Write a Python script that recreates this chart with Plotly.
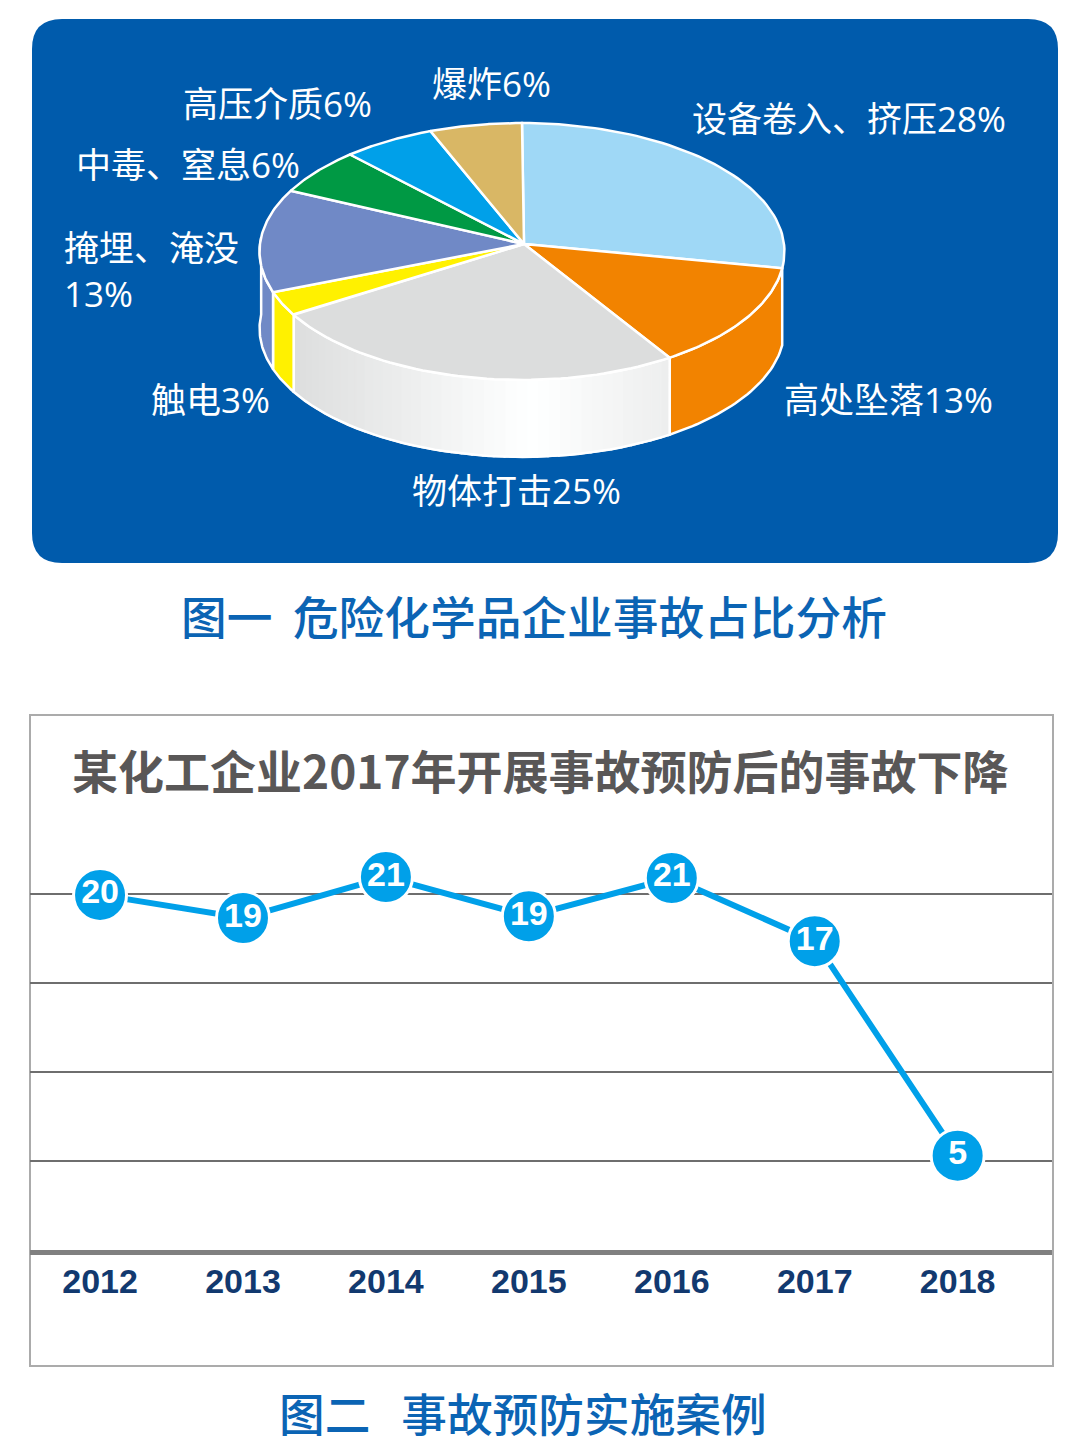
import numpy as np
import plotly.graph_objects as go

# pie data, clockwise from 12 o'clock
pie_names = ["设备卷入、挤压", "高处坠落", "物体打击", "触电", "掩埋、淹没<br>", "中毒、窒息", "高压介质", "爆炸"]
pie_shares = [28, 13, 25, 3, 13, 6, 6, 6]
pie_colors = ["#9FD8F6", "#F28300", "#DCDDDD", "#FFF100", "#7089C6", "#009944", "#00A0E9", "#D9B765"]
side_colors = ["#9FD8F6", "#F28300", None, "#FFF100", "#7089C6", "#009944", "#00A0E9", "#D9B765"]
label_pos = [(690, 118), (782, 399), (410, 490), (149, 399), (62, 270), (74, 164), (181, 103), (430, 83)]

# line data: printed labels, and the heights the points are drawn at in the picture
years = ["2012", "2013", "2014", "2015", "2016", "2017", "2018"]
accident_labels = [20, 19, 21, 19, 21, 17, 5]
accident_heights = [19.95, 18.65, 20.95, 18.75, 20.9, 17.35, 5.3]

BLUE = "#005BAC"
CJK = "Noto Sans CJK SC"
LABEL_FONT = "Open Sans, Noto Sans CJK SC"
DIGITS = "Liberation Sans"
W, H = 1084, 1456
PAGE = 8  # the page puts the figure 8px in from the top left corner

# fake 3d pie: a disc seen in perspective, then extruded down
CX, CY = 522, 244
APEX_X = 524
RX, RY = 262, 128
TILT = 0.0584
DEPTH = 77


def disc(t, r=1.0):
    X, Y = r * np.sin(t), r * np.cos(t)
    d = 1 + TILT * Y
    return CX + RX * X / d, CY - RY * Y / d


def poly(fig, x, y, fill, line="white", width=2.5):
    fig.add_trace(go.Scatter(
        x=x, y=y, mode="lines", fill="toself", fillcolor=fill,
        line=dict(color=line, width=width), hoverinfo="skip", showlegend=False
    ))


fig = go.Figure()

edges = 2 * np.pi * np.cumsum([0] + pie_shares) / sum(pie_shares)
LEFT_LIMIT = np.radians(273)

# sides first, only the part facing the viewer
for i in range(len(pie_shares)):
    a, b = edges[i], min(edges[i + 1], LEFT_LIMIT)
    if a >= LEFT_LIMIT or edges[i + 1] < np.pi / 2 + 0.2:
        continue
    if side_colors[i] is None:
        # gradient: split the wall in thin strips
        cuts = np.linspace(a, b, 41)
        for k in range(40):
            t = np.linspace(cuts[k], cuts[k + 1], 3)
            x, y = disc(t)
            mid = (x.mean() - 297) / (673 - 297)
            shade = 222 + 33 * mid / 0.62 if mid < 0.62 else 255 - 18 * (mid - 0.62) / 0.38
            c = "rgb(%d,%d,%d)" % (shade, shade + 1 if shade < 255 else 255, shade + 1 if shade < 255 else 255)
            poly(fig, list(x) + list(x[::-1]) + [x[0]], list(y) + list(y[::-1] + DEPTH) + [y[0]], c, line=c, width=2)
    t = np.linspace(a, b, 40)
    x, y = disc(t)
    px = list(x) + list(x[::-1]) + [x[0]]
    py = list(y) + list(y[::-1] + DEPTH) + [y[0]]
    if side_colors[i] is None:
        fig.add_trace(go.Scatter(x=px, y=py, mode="lines", line=dict(color="white", width=2.5),
                                 hoverinfo="skip", showlegend=False))
    else:
        poly(fig, px, py, side_colors[i])

# top face
for i in range(len(pie_shares)):
    t = np.linspace(edges[i], edges[i + 1], 60)
    x, y = disc(t)
    poly(fig, [APEX_X] + list(x) + [APEX_X], [CY] + list(y) + [CY], pie_colors[i])

# line chart
fig.add_trace(go.Scatter(
    x=years, y=accident_heights, xaxis="x2", yaxis="y2", mode="lines+markers+text",
    line=dict(color="#00A0E9", width=6),
    marker=dict(size=53, color="#00A0E9", line=dict(color="white", width=3)),
    text=[str(v) for v in accident_labels], textposition="middle center",
    textfont=dict(family=DIGITS, size=34, color="white", weight=700),
    cliponaxis=False, hoverinfo="skip", showlegend=False
))

annotations = []
for name, share, (lx, ly) in zip(pie_names, pie_shares, label_pos):
    annotations.append(dict(
        x=lx, y=ly, xref="x", yref="y", xanchor="left", yanchor="middle", align="left",
        text=f"{name}{share}%", showarrow=False,
        font=dict(family=LABEL_FONT, size=35, color="white")
    ))
annotations += [
    dict(x=534, y=615, xref="x", yref="y", text="图一  危险化学品企业事故占比分析", showarrow=False,
         font=dict(family=CJK, size=45.7, color="#0B64B4", weight=500)),
    dict(x=540, y=769, xref="x", yref="y", text="某化工企业2017年开展事故预防后的事故下降", showarrow=False,
         font=dict(family=CJK, size=46, color="#595757", weight=700)),
    dict(x=523, y=1412, xref="x", yref="y", text="图二   事故预防实施案例", showarrow=False,
         font=dict(family=CJK, size=45.7, color="#0B64B4", weight=500)),
]

panel = ("M 62 19 L 1028 19 Q 1058 19 1058 49 L 1058 533 Q 1058 563 1028 563 "
         "L 62 563 Q 32 563 32 533 L 32 49 Q 32 19 62 19 Z")

# y axis: 20 sits at 894 and 0 at 1251 on the page
grid_top = 1250 - 25 * (1250 - 894) / 20

fig.update_layout(
    width=W - PAGE, height=H - PAGE,
    margin=dict(l=0, r=0, t=0, b=0),
    paper_bgcolor="white", plot_bgcolor="rgba(0,0,0,0)",
    xaxis=dict(domain=[0, 1], range=[PAGE, W], visible=False),
    yaxis=dict(domain=[0, 1], range=[H, PAGE], visible=False),
    xaxis2=dict(
        domain=[(30 - PAGE) / (W - PAGE), (1052 - PAGE) / (W - PAGE)], anchor="y2", type="category",
        range=[-0.49, 6.66], showgrid=False, showline=True, linecolor="#808080", linewidth=5,
        ticks="", ticklabelstandoff=-3,
        tickfont=dict(family=DIGITS, size=34, color="#12396F", weight=700)
    ),
    yaxis2=dict(
        domain=[(H - 1250) / (H - PAGE), (H - grid_top) / (H - PAGE)], anchor="x2", range=[0, 25],
        tickvals=[0, 5, 10, 15, 20], showticklabels=False, zeroline=False,
        showgrid=True, gridcolor="#6E6E6E", gridwidth=2
    ),
    shapes=[
        dict(type="path", path=panel, xref="x", yref="y", fillcolor=BLUE, line=dict(width=0), layer="below"),
        dict(type="rect", x0=30, y0=715, x1=1053, y1=1366, xref="x", yref="y",
             line=dict(color="#ABABAB", width=2), layer="below"),
    ],
    annotations=annotations
)

fig.write_html("out.html")
